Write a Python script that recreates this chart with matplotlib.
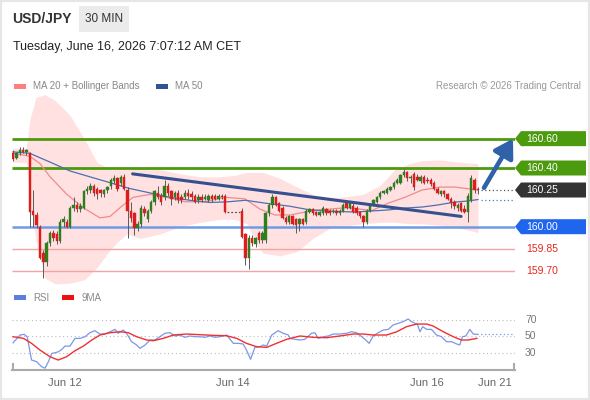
import numpy as np
import matplotlib
matplotlib.use('Agg')
import matplotlib.pyplot as plt
from matplotlib.patches import Rectangle, Polygon
from matplotlib.lines import Line2D
import matplotlib.transforms as mtransforms

plt.rcParams['font.family'] = ['Liberation Sans', 'DejaVu Sans']

# ---------------- data ----------------
# Friday session (before weekend gap)
open_a = [160.50,160.47,160.50,160.52,160.51,160.50,160.11,160.08,160.00,159.82,
          159.76,159.89,159.96,159.95,159.90,160.03,160.03,160.00,160.13,160.15,
          160.12,160.13,160.24,160.25,160.28,160.26,160.25,160.22,160.25,160.28,
          160.31,160.33,160.30,160.34,160.25,160.11,160.09,159.99,160.02,160.12,
          160.05,160.11,160.17,160.23,160.21,160.20,160.28,160.24,160.20,160.23,
          160.20,160.20,160.23,160.22,160.21,160.18,160.20,160.19,160.18,160.21,
          160.21,160.19,160.21,160.21]
high_a = [160.52,160.51,160.54,160.54,160.53,160.51,160.25,160.10,160.01,159.84,
          159.90,159.97,159.98,159.97,160.05,160.07,160.05,160.14,160.20,160.17,
          160.16,160.25,160.28,160.30,160.29,160.27,160.26,160.26,160.28,160.33,
          160.35,160.34,160.35,160.36,160.27,160.17,160.10,160.04,160.15,160.14,
          160.12,160.18,160.25,160.28,160.23,160.32,160.30,160.25,160.24,160.25,
          160.22,160.25,160.26,160.24,160.22,160.22,160.22,160.22,160.22,160.22,
          160.22,160.22,160.22,160.22]
low_a = [160.45,160.46,160.49,160.50,160.49,160.00,160.00,159.99,159.78,159.65,
         159.73,159.87,159.90,159.88,159.89,160.00,159.99,159.99,160.11,160.10,
         160.10,160.12,160.22,160.23,160.21,160.19,160.20,160.20,160.23,160.26,
         160.29,160.24,160.28,160.25,159.92,160.03,159.94,159.97,160.00,160.07,
         160.03,160.09,160.15,160.19,160.15,160.18,160.21,160.15,160.18,160.16,
         160.16,160.19,160.19,160.18,160.16,160.16,160.17,160.18,160.17,160.17,
         160.18,160.18,160.19,160.09]
close_a = [160.46,160.50,160.52,160.51,160.52,160.10,160.08,160.01,159.79,159.76,
           159.89,159.96,159.92,159.90,160.03,160.05,160.00,160.13,160.15,160.12,
           160.14,160.24,160.26,160.28,160.23,160.22,160.23,160.25,160.27,160.32,
           160.33,160.26,160.34,160.26,160.11,160.06,159.99,160.02,160.13,160.09,
           160.11,160.17,160.24,160.20,160.17,160.28,160.23,160.19,160.23,160.18,
           160.18,160.23,160.21,160.20,160.17,160.20,160.18,160.20,160.21,160.19,
           160.19,160.21,160.20,160.10]
# Sunday evening onwards (after weekend gap)
open_b = [160.11,159.95,159.79,159.92,159.88,159.96,159.91,159.91,160.09,160.15,
          160.20,160.16,160.13,160.06,160.03,160.07,160.05,160.02,160.05,160.03,
          160.10,160.12,160.10,160.08,160.09,160.12,160.11,160.10,160.11,160.09,
          160.11,160.16,160.13,160.14,160.13,160.10,160.07,160.03,160.11,160.15,
          160.17,160.20,160.23,160.23,160.25,160.27,160.30,160.30,160.35,160.37,
          160.33,160.36,160.34,160.31,160.34,160.32,160.32,160.30,160.26,160.22,
          160.24,160.22,160.19,160.17,160.13,160.16,160.12,160.10,160.18,160.32,
          160.26]
high_b = [160.13,159.96,159.94,159.94,159.93,159.97,159.97,160.10,160.16,160.22,
          160.21,160.17,160.14,160.07,160.08,160.08,160.06,160.06,160.06,160.12,
          160.13,160.13,160.11,160.11,160.14,160.13,160.12,160.12,160.12,160.12,
          160.16,160.17,160.17,160.16,160.14,160.11,160.08,160.12,160.16,160.19,
          160.21,160.24,160.25,160.27,160.28,160.31,160.33,160.36,160.39,160.38,
          160.35,160.37,160.36,160.35,160.35,160.34,160.33,160.31,160.27,160.25,
          160.25,160.23,160.20,160.18,160.16,160.17,160.15,160.23,160.35,160.33,
          160.27]
low_b = [159.92,159.74,159.71,159.87,159.86,159.89,159.89,159.89,160.07,160.13,
         160.14,160.10,160.05,160.02,160.02,160.01,159.96,159.97,160.01,160.02,
         160.09,160.08,160.07,160.07,160.08,160.08,160.08,160.09,160.08,160.08,
         160.10,160.12,160.12,160.09,160.08,160.06,160.00,160.02,160.10,160.14,
         160.16,160.19,160.22,160.22,160.24,160.26,160.29,160.29,160.34,160.31,
         160.30,160.25,160.31,160.30,160.29,160.30,160.28,160.25,160.22,160.21,
         160.20,160.18,160.13,160.12,160.11,160.10,160.09,160.03,160.17,160.23,
         160.22]
close_b = [159.93,159.79,159.92,159.89,159.92,159.91,159.96,160.09,160.15,160.20,
           160.15,160.11,160.06,160.03,160.07,160.02,160.01,160.05,160.02,160.11,
           160.12,160.09,160.08,160.10,160.13,160.09,160.09,160.11,160.09,160.11,
           160.15,160.13,160.16,160.10,160.09,160.07,160.03,160.11,160.15,160.18,
           160.20,160.23,160.24,160.26,160.27,160.30,160.32,160.35,160.37,160.33,
           160.34,160.27,160.32,160.34,160.30,160.31,160.29,160.26,160.23,160.24,
           160.22,160.19,160.16,160.14,160.15,160.11,160.10,160.21,160.33,160.25,
           160.25]

# indicator readings (bar position, value)
bb_pos = [0, 3.9, 5, 6.8, 9.5, 12.5, 16.9, 21.4, 24.9, 28.8, 31.2, 33.8, 37.7, 43.6,
          49.6, 55.5, 61.4, 65.9, 69.4, 72.4, 74.2, 79.2, 84.3, 89, 94.1, 97, 103.9,
          108.9, 113.4, 117.8, 121.4, 126.7, 132.6, 138]
bb_upper = [160.535, 160.535, 160.73, 160.88, 160.90, 160.86, 160.76, 160.59, 160.44,
            160.39, 160.39, 160.39, 160.40, 160.39, 160.36, 160.34, 160.34, 160.35,
            160.37, 160.37, 160.37, 160.33, 160.27, 160.22, 160.20, 160.20, 160.22,
            160.28, 160.39, 160.43, 160.45, 160.455, 160.44, 160.43]
bb_lower = [160.44, 160.44, 160.20, 159.90, 159.65, 159.61, 159.615, 159.64, 159.72,
            159.84, 159.90, 159.95, 159.92, 159.95, 160.00, 160.03, 160.05, 160.05,
            160.02, 159.88, 159.82, 159.80, 159.83, 159.92, 159.99, 160.00, 160.02,
            160.03, 160.03, 160.02, 160.02, 160.01, 159.99, 159.96]
ma20_pos = [0, 5, 8, 11, 16, 20.8, 25.8, 28.8, 31.8, 35.6, 40.7, 45.7, 51, 57, 62.9,
            68.8, 73.3, 77.7, 82.2, 89, 99.1, 106.5, 111.3, 116.3, 121.4, 126.7, 131.2, 138]
ma20 = [160.50, 160.48, 160.43, 160.34, 160.22, 160.13, 160.06, 160.07, 160.13, 160.20,
        160.22, 160.20, 160.17, 160.17, 160.20, 160.19, 160.12, 160.08, 160.08, 160.11,
        160.13, 160.11, 160.16, 160.20, 160.25, 160.27, 160.27, 160.25]
ma50_pos = [0, 5, 11, 16.9, 22.8, 28.8, 34.7, 40.7, 46.6, 52.5, 58.5, 64, 69, 75, 82,
            88, 95, 101.5, 111.3, 116.3, 121.4, 126.1, 131.2, 135, 138]
ma50 = [160.51, 160.50, 160.44, 160.38, 160.34, 160.30, 160.26, 160.23, 160.20, 160.18,
        160.165, 160.17, 160.18, 160.16, 160.14, 160.115, 160.105, 160.10, 160.114,
        160.127, 160.134, 160.148, 160.168, 160.175, 160.185]
trend_pos = [35.5, 133.0]
trend_val = [160.36, 160.07]

rsi_pos = [0, 2.1, 3.3, 4.2, 5.5, 7.0, 8.5, 9.5, 10.5, 11.5, 12.5, 13.4, 14.5, 15.4, 16.9,
           18.4, 19.9, 21.4, 22.8, 24.3, 25.8, 27.3, 28.8, 30.3, 31.2, 32.7, 33.7, 35.2,
           36.7, 37.7, 39.2, 40.7, 42.1, 43.6, 45.1, 46.6, 48.1, 49.6, 51.0, 52.5, 54.0,
           55.5, 57.0, 58.5, 59.9, 61.4, 63.4, 65.4, 66.9, 68.3, 69.3, 70.5, 71.8, 73.3,
           74.3, 75.3, 76.8, 78.7, 80.2, 81.7, 82.2, 83.7, 85.2, 86.6, 88.6, 89.6, 90.6,
           92.1, 93.6, 95.0, 97.0, 99.0, 100.5, 102.0, 103.5, 104.7, 105.7, 106.9, 108.4,
           109.9, 111.4, 112.8, 114.3, 115.8, 117.3, 118.3, 119.3, 120.0, 120.8, 121.6,
           122.8, 124.2, 125.7, 127.2, 128.7, 130.2, 131.7, 132.6, 133.4, 134.4, 135.6,
           136.6, 137.8]
rsi = [42, 51.6, 52.4, 49.5, 21, 19, 12.8, 11, 19, 29, 30, 31, 34, 38, 38,
       47.5, 47.5, 49.5, 54.4, 56.9, 52.8, 52.8, 55.6, 58.5, 53.7, 57.7, 53.7, 43.4,
       39.4, 35.3, 39.4, 45.5, 45.5, 49.5, 53.7, 54.4, 50.4, 51.6, 48.8, 50.4, 49.5,
       49.5, 48.8, 50.4, 48.8, 49.5, 51.6, 41.4, 41.4, 40.6, 33.2, 21.9, 36.5, 37.3,
       39.4, 38.1, 51.6, 56.9, 53.7, 51.6, 47.5, 46.3, 45.5, 46.3, 53.7, 54.4, 47.5,
       49.5, 50.4, 52.8, 52.8, 53.7, 55.6, 54.4, 49.5, 45.5, 41.4, 50.4, 54.4,
       57.7, 58.5, 63.8, 65.9, 67.9, 71.2, 67.9, 65.9, 65.0, 55.6, 61.8,
       58.5, 58.5, 51.6, 49.5, 43.4, 43.4, 40.6, 39.4, 49.5, 50.4, 58.5,
       52.8, 52.4]
rsi_ma_pos = [0, 3.1, 5.5, 8.0, 11.0, 13.4, 15.9, 18.4, 20.9, 23.4, 25.8, 28.8, 31.8,
              34.2, 36.7, 39.7, 41.6, 44.6, 47.6, 51.5, 55.5, 59.4, 63.4, 66.4, 69.3,
              72.3, 75.3, 78.2, 81.2, 85.2, 89.1, 93.1, 97.0, 101.0, 104.0, 106.9, 110.9,
              113.9, 116.8, 119.8, 122.8, 124.7, 127.7, 130.7, 133.1, 135.1, 137.7]
rsi_ma = [49.5, 47.5, 41.4, 33.2, 25, 21, 25, 32.4, 38.1, 45.5, 51.6, 54.4, 55.6,
          54.4, 49.5, 45.5, 44.6, 47.5, 51.6, 52.8, 52, 51.2, 50.7, 47.5, 41.4,
          37.3, 36.5, 41.4, 46.3, 50.4, 48.8, 48.3, 50.4, 52.8, 52.8, 51.6, 51.6,
          55.6, 61.8, 65, 65, 62.6, 55.6, 49.5, 45.5, 45.5, 47.5]

levels_green = [160.60, 160.40]
level_last = 160.25
level_blue = 160.00
levels_red = [159.85, 159.70]
date_ticks = [15.3, 65.1, 122.7, 143.0]
date_labels = ['Jun 12', 'Jun 14', 'Jun 16', 'Jun 21']
rsi_levels = [30, 50, 70]

assert len(open_a) == len(high_a) == len(low_a) == len(close_a) == 64
assert len(open_b) == len(high_b) == len(low_b) == len(close_b) == 71
assert len(rsi_pos) == len(rsi) and len(rsi_ma_pos) == len(rsi_ma)
assert len(bb_pos) == len(bb_upper) == len(bb_lower)
assert len(ma20_pos) == len(ma20) and len(ma50_pos) == len(ma50)

# ---------------- figure ----------------
W, H = 590, 400
fig = plt.figure(figsize=(5.9, 4.0), dpi=100)
fig.patch.set_facecolor('white')

def fx(px):
    return px / W

def fy(py):
    return 1 - py / H

fig.add_artist(Rectangle((0, 0), 1, 1, transform=fig.transFigure, fill=False,
                         edgecolor='#e6e6e6', lw=3))

# header
fig.text(fx(12), fy(19), 'USD/JPY', fontsize=10, fontweight='bold', color='#333333', va='center')
fig.add_artist(Rectangle((fx(79), fy(32)), fx(129) - fx(79), 26 / H, transform=fig.transFigure,
                         facecolor='#ebebeb', edgecolor='none'))
fig.text(fx(104), fy(19), '30 MIN', fontsize=8.5, color='#333333', ha='center', va='center')
fig.text(fx(13), fy(47), 'Tuesday, June 16, 2026 7:07:12 AM CET', fontsize=9, color='#222222', va='center')

# legend row
fig.add_artist(Rectangle((fx(14), fy(89)), 12 / W, 5 / H, transform=fig.transFigure,
                         facecolor='#ff8080', edgecolor='none'))
fig.text(fx(33), fy(86), 'MA 20 + Bollinger Bands', fontsize=7, color='#888888', va='center')
fig.add_artist(Rectangle((fx(156), fy(89)), 12 / W, 5 / H, transform=fig.transFigure,
                         facecolor='#2f5496', edgecolor='none'))
fig.text(fx(175), fy(86), 'MA 50', fontsize=7, color='#888888', va='center')
fig.text(fx(581), fy(86), 'Research \u00a9 2026 Trading Central', fontsize=7, color='#999999',
         va='center', ha='right')

# ---------------- main price axes ----------------
XL = (-0.3, 149.0)
ax = fig.add_axes([fx(12), fy(290), (515 - 12) / W, (290 - 92) / H])
ax.set_xlim(*XL)
ax.set_ylim(159.5685, 160.918)
ax.axis('off')

ax.fill_between(bb_pos, bb_lower, bb_upper, color='#ffe1e1', lw=0, zorder=1)
ax.plot(ma20_pos, ma20, color='#f28a8a', lw=0.9, zorder=2)
ax.plot(ma50_pos, ma50, color='#4d6fb3', lw=0.9, zorder=2)

for lv in levels_green:
    ax.hlines(lv, XL[0], XL[1], color='#4c9a0e', lw=2, zorder=1.5)
ax.hlines(level_blue, XL[0], XL[1], color='#6f9be6', lw=1.8, zorder=1.5)
for lv in levels_red:
    ax.hlines(lv, XL[0], XL[1], color='#f5a3a3', lw=1, zorder=1.5)

pos_a = np.arange(len(open_a))
pos_b = np.arange(len(open_b)) + 68
pos = np.concatenate([pos_a, pos_b])
o = np.array(open_a + open_b)
h = np.array(high_a + high_b)
l = np.array(low_a + low_b)
c = np.array(close_a + close_b)
cols = np.where(c >= o, '#2e7d1f', '#dd1c1c')
ax.vlines(pos, l, h, color='#5a5a5a', lw=0.7, zorder=3)
body = np.maximum(np.abs(c - o), 0.006)
ax.bar(pos, body, bottom=np.minimum(o, c), width=0.72, color=cols, edgecolor=cols, lw=0.3, zorder=4)

# weekend gap
ax.plot([pos_a[-1] + 0.5, pos_b[0] - 0.5], [close_a[-1], close_a[-1]], color='#555555',
        lw=0.9, ls=(0, (1.5, 1.5)), zorder=3)

# trendline
ax.plot(trend_pos, trend_val, color='#34508f', lw=2.2, zorder=5, solid_capstyle='round')

# dotted extensions
ax.hlines(level_last, pos[-1] + 0.8, XL[1], color='#555555', lw=0.9, linestyles=(0, (1, 2)), zorder=3)
ax.hlines(ma50[-1], pos[-1] + 0.8, XL[1], color='#5577c0', lw=0.9, linestyles=(0, (1, 2)), zorder=3)

# forecast arrow
ax.annotate('', xy=(148.4, 160.60), xytext=(139.8, 160.265),
            arrowprops=dict(arrowstyle='-|>,head_width=0.55,head_length=0.9', lw=3.3,
                            color='#2f62a8', shrinkA=0, shrinkB=0, mutation_scale=12),
            zorder=6, annotation_clip=False)

# right labels
bt = mtransforms.blended_transform_factory(fig.transFigure, ax.transData)
hh = 7.5 / 146.7

def tag(price, text, face):
    pts = [(fx(515), price), (fx(521), price + hh), (fx(586), price + hh),
           (fx(586), price - hh), (fx(521), price - hh)]
    ax.add_patch(Polygon(pts, closed=True, transform=bt, facecolor=face, edgecolor='none',
                         clip_on=False, zorder=7))
    ax.text(fx(526), price, text, transform=bt, color='white', fontsize=7.5, va='center',
            ha='left', clip_on=False, zorder=8)

for lv in levels_green:
    tag(lv, f'{lv:.2f}', '#4c9a0e')
tag(level_last, f'{level_last:.2f}', '#333333')
tag(level_blue, f'{level_blue:.2f}', '#1f65ee')
for lv in levels_red:
    ax.text(fx(526), lv, f'{lv:.2f}', transform=bt, color='#e8261e', fontsize=7.5,
            va='center', ha='left', clip_on=False)

# ---------------- RSI axes ----------------
fig.add_artist(Rectangle((fx(14), fy(300)), 12 / W, 5 / H, transform=fig.transFigure,
                         facecolor='#5b7fe0', edgecolor='none'))
fig.text(fx(33), fy(298), 'RSI', fontsize=7, color='#888888', va='center')
fig.add_artist(Rectangle((fx(62), fy(300)), 12 / W, 5 / H, transform=fig.transFigure,
                         facecolor='#ee1111', edgecolor='none'))
fig.text(fx(81), fy(298), '9MA', fontsize=7, color='#888888', va='center')

ax2 = fig.add_axes([fx(12), fy(370), (515 - 12) / W, 60 / H])
ax2.set_xlim(*XL)
ax2.set_ylim(8.8, 82.2)
for s in ['top', 'left', 'right']:
    ax2.spines[s].set_visible(False)
ax2.spines['bottom'].set_color('#aaaaaa')
ax2.spines['bottom'].set_linewidth(1.5)
ax2.set_yticks([])
ax2.hlines(rsi_levels, XL[0], XL[1], colors='#bbbbbb', lw=0.8, linestyles=(0, (1, 2.5)))
ax2.plot(rsi_pos, rsi, color='#7b96ea', lw=0.9)
ax2.plot(rsi_ma_pos, rsi_ma, color='#f03030', lw=1.0)
ax2.hlines(rsi[-1], rsi_pos[-1], XL[1], colors='#7b96ea', lw=0.9, linestyles=(0, (1, 2)))
bt2 = mtransforms.blended_transform_factory(fig.transFigure, ax2.transData)
for lv in rsi_levels:
    ax2.text(fx(525), lv, str(lv), transform=bt2, color='#777777', fontsize=7.5, va='center',
             ha='left', clip_on=False)
ax2.set_xticks(date_ticks)
ax2.set_xticklabels(date_labels)
ax2.tick_params(axis='x', length=0, pad=6, labelsize=8, labelcolor='#666666')
for xp in (12.5, 514):
    fig.add_artist(Line2D([fx(xp), fx(xp)], [fy(370), fy(364)], color='#aaaaaa', lw=1.5))

fig.savefig('out.png', dpi=100)
